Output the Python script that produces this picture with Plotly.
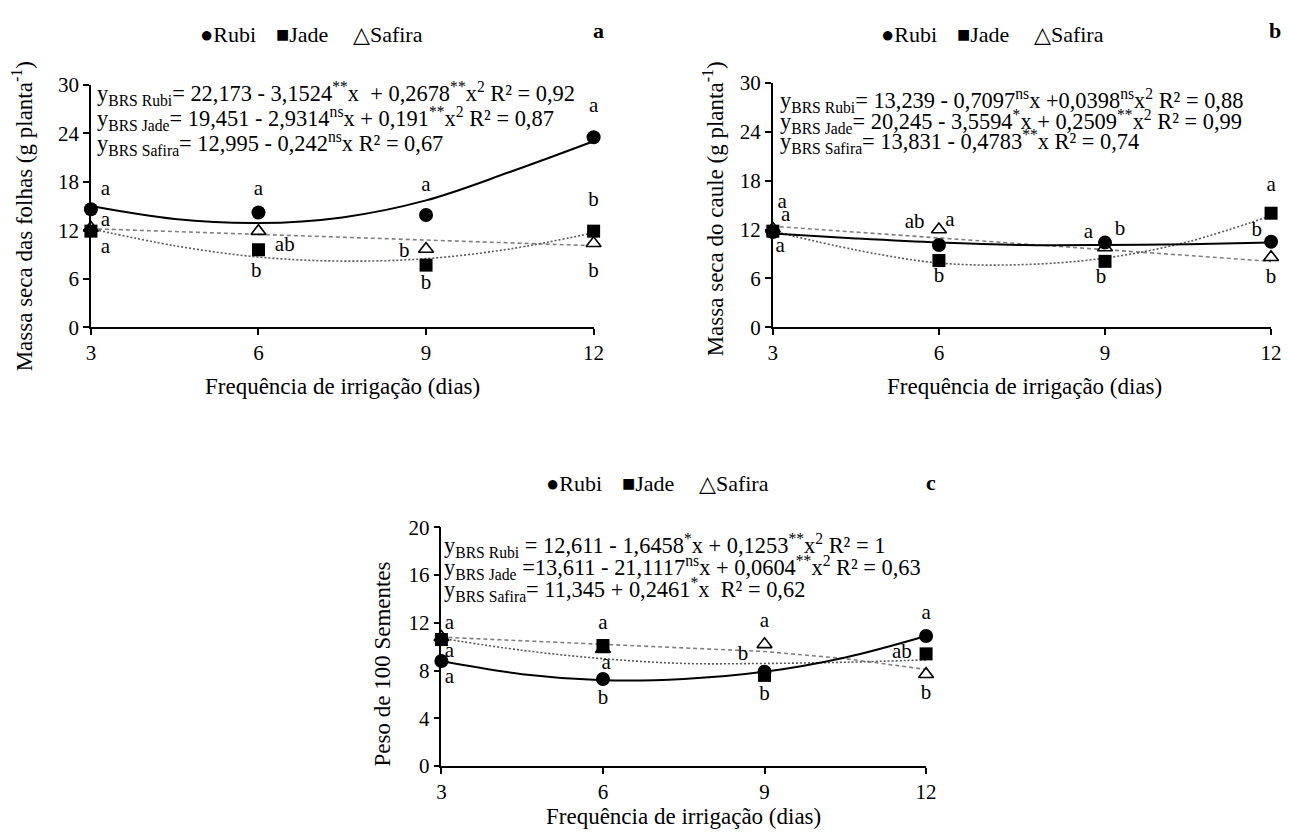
import plotly.graph_objects as go

W, H = 1290, 835
FONT = "Liberation Serif, Times New Roman, DejaVu Serif, serif"

# ---------------- data ----------------
dias = [3, 6, 9, 12]
trend_x = [3, 4.5, 6, 7.5, 9, 10.5, 12]
lin_x = [3, 12]

# panel a - Massa seca das folhas
a_rubi = [14.6, 14.2, 13.9, 23.5]
a_jade = [11.9, 9.6, 7.7, 11.9]
a_safira = [12.3, 11.9, 9.7, 10.4]
a_rubi_fit = [15.0, 13.4, 12.9, 13.6, 15.7, 19.2, 23.0]
a_jade_fit = [12.2, 10.1, 8.7, 8.2, 8.5, 9.7, 11.7]
a_safira_fit = [12.2, 10.1]
a_let_x = [3.26, 3.26, 3.26, 6.0, 6.47, 5.96, 9.0, 8.61, 9.0, 12.0, 12.0, 12.0]
a_let_y = [17.0, 13.2, 9.9, 17.0, 10.1, 6.85, 17.5, 9.3, 5.4, 27.3, 15.7, 6.85]
a_let_t = ["a", "a", "a", "a", "ab", "b", "a", "b", "b", "a", "b", "b"]
a_eq = ["y<sub>BRS Rubi</sub>= 22,173 - 3,1524<sup>**</sup>x  + 0,2678<sup>**</sup>x<sup>2</sup> R² = 0,92",
        "y<sub>BRS Jade</sub>= 19,451 - 2,9314<sup>ns</sup>x + 0,191<sup>**</sup>x<sup>2</sup> R² = 0,87",
        "y<sub>BRS Safira</sub>= 12,995 - 0,242<sup>ns</sup>x R² = 0,67"]

# panel b - Massa seca do caule
b_rubi = [11.7, 10.1, 10.4, 10.5]
b_jade = [11.8, 8.2, 8.1, 14.0]
b_safira = [12.1, 12.0, 9.8, 8.6]
b_rubi_fit = [11.5, 10.9, 10.4, 10.1, 10.1, 10.2, 10.4]
b_jade_fit = [11.8, 9.5, 7.9, 7.7, 8.5, 10.5, 13.7]
b_safira_fit = [12.4, 8.1]
b_let_x = [3.17, 3.23, 3.13, 5.56, 6.2, 6.0, 8.7, 9.27, 8.93, 12.0, 11.74, 12.0]
b_let_y = [15.3, 13.7, 9.9, 12.85, 13.05, 6.26, 11.6, 12.0, 6.05, 17.4, 11.8, 6.05]
b_let_t = ["a", "a", "a", "ab", "a", "b", "a", "b", "b", "a", "b", "b"]
b_eq = ["y<sub>BRS Rubi</sub>= 13,239 - 0,7097<sup>ns</sup>x +0,0398<sup>ns</sup>x<sup>2</sup> R² = 0,88",
        "y<sub>BRS Jade</sub>= 20,245 - 3,5594<sup>*</sup>x + 0,2509<sup>**</sup>x<sup>2</sup> R² = 0,99",
        "y<sub>BRS Safira</sub>= 13,831 - 0,4783<sup>**</sup>x R² = 0,74"]

# panel c - Peso de 100 sementes
c_rubi = [8.8, 7.3, 7.9, 10.9]
c_jade = [10.6, 10.1, 7.6, 9.4]
c_safira = [10.8, 9.8, 10.2, 7.7]
c_rubi_fit = [8.8, 7.7, 7.2, 7.3, 7.9, 9.1, 10.9]
c_jade_fit = [10.7, 9.7, 9.0, 8.6, 8.6, 8.7, 8.9]
c_safira_x = [3, 6, 9, 10.5, 12]
c_safira_fit = [10.8, 10.2, 9.6, 9.0, 8.1]
c_let_x = [3.15, 3.15, 3.15, 6.0, 6.06, 6.0, 9.0, 8.6, 9.0, 12.0, 11.55, 12.0]
c_let_y = [11.9, 9.6, 7.36, 11.9, 8.57, 5.67, 12.1, 9.3, 5.95, 12.8, 9.47, 6.1]
c_let_t = ["a", "a", "a", "a", "a", "b", "a", "b", "b", "a", "ab", "b"]
c_eq = ["y<sub>BRS Rubi</sub> = 12,611 - 1,6458<sup>*</sup>x + 0,1253<sup>**</sup>x<sup>2</sup> R² = 1",
        "y<sub>BRS Jade</sub> =13,611 - 21,1117<sup>ns</sup>x + 0,0604<sup>**</sup>x<sup>2</sup> R² = 0,63",
        "y<sub>BRS Safira</sub>= 11,345 + 0,2461<sup>*</sup>x  R² = 0,62"]

x_title = "Frequência de irrigação (dias)"
legend_items = ["●Rubi", "■Jade", "△Safira"]
legend_offsets = [0, 76, 153]

panels = [
    dict(sfx="", box=(90, 592, 84, 327), ymax=30, dtick=6,
         rubi=a_rubi, jade=a_jade, saf=a_safira,
         rfit=a_rubi_fit, jfit=a_jade_fit, sx=lin_x, sfit=a_safira_fit,
         lx=a_let_x, ly=a_let_y, lt=a_let_t, eq=a_eq, eqx=94, eqy=[93, 118, 143],
         ytitle="Massa seca das folhas (g planta<sup>-1</sup>)", yt=(22, 216),
         xt=(341, 386), leg=(197, 34), tag="a", tagxy=(597, 30)),
    dict(sfx="2", box=(771, 1269, 82, 327), ymax=30, dtick=6,
         rubi=b_rubi, jade=b_jade, saf=b_safira,
         rfit=b_rubi_fit, jfit=b_jade_fit, sx=lin_x, sfit=b_safira_fit,
         lx=b_let_x, ly=b_let_y, lt=b_let_t, eq=b_eq, eqx=776, eqy=[100, 121, 141],
         ytitle="Massa seca do caule (g planta<sup>-1</sup>)", yt=(712, 208),
         xt=(1022, 386), leg=(877, 34), tag="b", tagxy=(1272, 30)),
    dict(sfx="3", box=(440, 924, 527, 766), ymax=20, dtick=4,
         rubi=c_rubi, jade=c_jade, saf=c_safira,
         rfit=c_rubi_fit, jfit=c_jade_fit, sx=c_safira_x, sfit=c_safira_fit,
         lx=c_let_x, ly=c_let_y, lt=c_let_t, eq=c_eq, eqx=441, eqy=[545, 567, 589],
         ytitle="Peso de 100 Sementes", yt=(381, 664),
         xt=(682, 816), leg=(542, 483), tag="c", tagxy=(929, 482)),
]

# screen placement correction (observed page rendering scale/offset)
SX, OX = 0.987, 4.2
SY, OY = 0.972, 11.3

fig = go.Figure()
annotations = []
layout = {}


def px(x):
    return ((x - OX) / SX) / W


def py(y):
    return 1 - ((y - OY) / SY) / H


def note(x, y, text, size, xanchor="center", angle=0):
    annotations.append(dict(x=px(x), y=py(y), xref="paper", yref="paper", text=text,
                            showarrow=False, xanchor=xanchor, yanchor="middle",
                            textangle=angle,
                            font=dict(family=FONT, size=size, color="black")))


for p in panels:
    s = p["sfx"]
    xa, ya = "x" + s, "y" + s
    # fitted lines
    fig.add_trace(go.Scatter(x=p["sx"], y=p["sfit"], mode="lines", xaxis=xa, yaxis=ya,
                             line=dict(color="#808080", width=1.6, dash="4px,3px"),
                             showlegend=False, hoverinfo="skip"))
    fig.add_trace(go.Scatter(x=trend_x, y=p["jfit"], mode="lines", xaxis=xa, yaxis=ya,
                             line=dict(color="#5a5a5a", width=1.6, dash="2px,2px", shape="spline"),
                             showlegend=False, hoverinfo="skip"))
    fig.add_trace(go.Scatter(x=trend_x, y=p["rfit"], mode="lines", xaxis=xa, yaxis=ya,
                             line=dict(color="black", width=2, shape="spline"),
                             showlegend=False, hoverinfo="skip"))
    # points
    fig.add_trace(go.Scatter(x=dias, y=p["saf"], mode="markers", xaxis=xa, yaxis=ya, cliponaxis=False,
                             marker=dict(symbol="triangle-up", size=13, color="white",
                                         line=dict(color="black", width=1.6)),
                             showlegend=False, name="Safira"))
    fig.add_trace(go.Scatter(x=dias, y=p["jade"], mode="markers", xaxis=xa, yaxis=ya, cliponaxis=False,
                             marker=dict(symbol="square", size=13, color="black"),
                             showlegend=False, name="Jade"))
    fig.add_trace(go.Scatter(x=dias, y=p["rubi"], mode="markers", xaxis=xa, yaxis=ya, cliponaxis=False,
                             marker=dict(symbol="circle", size=14, color="black"),
                             showlegend=False, name="Rubi"))
    # letters
    fig.add_trace(go.Scatter(x=p["lx"], y=p["ly"], mode="text", text=p["lt"], xaxis=xa, yaxis=ya,
                             cliponaxis=False, textposition="middle center",
                             textfont=dict(family=FONT, size=21, color="black"),
                             showlegend=False, hoverinfo="skip"))

    x0, x1, y0, y1 = p["box"]
    axis_common = dict(showline=True, linecolor="black", linewidth=1.6, ticks="outside",
                       ticklen=6, tickwidth=1.6, tickcolor="black", showgrid=False, zeroline=False,
                       tickfont=dict(family=FONT, size=21, color="black"))
    layout["xaxis" + s] = dict(domain=[px(x0), min(px(x1), 0.993)], anchor=ya, range=[3, 12],
                               tickvals=[3, 6, 9, 12], **axis_common)
    layout["yaxis" + s] = dict(domain=[py(y1), py(y0)], anchor=xa, range=[0, p["ymax"]],
                               dtick=p["dtick"], tick0=0, **axis_common)

    for i, t in enumerate(p["eq"]):
        note(p["eqx"], p["eqy"][i], t, 22.4, xanchor="left")
    note(p["yt"][0], p["yt"][1], p["ytitle"], 23, angle=-90)
    note(p["xt"][0], p["xt"][1], x_title, 23)
    for item, off in zip(legend_items, legend_offsets):
        note(p["leg"][0] + off, p["leg"][1], item, 22, xanchor="left")
    note(p["tagxy"][0], p["tagxy"][1], "<b>" + p["tag"] + "</b>", 22)

fig.update_layout(width=W, height=H, margin=dict(l=0, r=0, t=0, b=0),
                  paper_bgcolor="white", plot_bgcolor="white",
                  annotations=annotations, showlegend=False, **layout)

page_fix = (
    "document.documentElement.style.margin='0px';"
    "document.body.style.margin='0px';"
    "document.body.style.overflow='hidden';"
)

fig.write_html("out.html", config={"displayModeBar": False}, post_script=page_fix)
